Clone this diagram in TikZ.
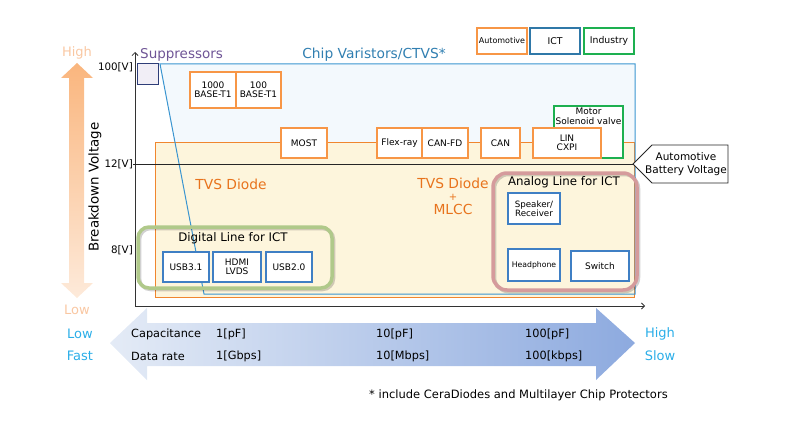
\documentclass[tikz,border=0pt]{standalone}
\usepackage{fontspec}
\setmainfont{DejaVu Sans}
\usetikzlibrary{arrows.meta}
\newcommand{\fsz}[1]{\fontsize{#1}{#1}\selectfont}
\definecolor{autoc}{HTML}{F79646}
\definecolor{ictc}{HTML}{3F7FC4}
\definecolor{ictleg}{HTML}{2F78A8}
\definecolor{indc}{HTML}{1DB050}
\definecolor{varc}{HTML}{3A95D0}
\definecolor{varfill}{HTML}{F3F9FD}
\definecolor{tvsfill}{HTML}{FDF5DC}
\definecolor{tvsline}{HTML}{F0862E}
\definecolor{tvstext}{HTML}{E8731C}
\definecolor{supfill}{HTML}{F1EEF6}
\definecolor{supline}{HTML}{2E3D78}
\definecolor{suptext}{HTML}{6F5596}
\definecolor{digc}{HTML}{B0C98A}
\definecolor{anac}{HTML}{D59B9C}
\definecolor{cyanc}{HTML}{2BAEE8}
\definecolor{hilo}{HTML}{F9C7A2}
\definecolor{arrl}{HTML}{E4EBF6}
\definecolor{arrr}{HTML}{8DAADF}
\begin{document}
\begin{tikzpicture}[x=1pt,y=-1pt,
  every node/.style={inner sep=0pt, align=center},
  autobox/.style={draw=autoc, fill=white, line width=1.3pt, font=\fsz{9}},
  ictbox/.style={draw=ictc, fill=white, line width=1.3pt, font=\fsz{9}},
  indbox/.style={draw=indc, fill=white, line width=1.3pt},
  groupline/.style={line width=3.5pt},
  groupshadow/.style={line width=3.5pt, draw=black, opacity=0.18},
  lbl/.style={anchor=west, font=\fsz{11.3}},
  speed/.style={text=cyanc, font=\fsz{13}},
  axis/.style={draw=black!80, line width=0.8pt}
]
\useasboundingbox (0,0) rectangle (805,433);

% left vertical orange arrow
\shade[top color=autoc!70, bottom color=autoc!20]
  (77,63) -- (93,78) -- (84,78) -- (84,283) -- (93,283) -- (77,298)
  -- (61,283) -- (69,283) -- (69,78) -- (61,78) -- cycle;
\node[text=hilo, font=\fsz{13}] (high) at (77,53) {High};
\node[text=hilo, font=\fsz{13}] (low) at (77,310) {Low};
\node[rotate=90, font=\fsz{13.4}] (bv) at (95,187) {Breakdown Voltage};

% bottom horizontal arrow
\shade[left color=arrl, right color=arrr]
  (110,343) -- (147,308) -- (147,323) -- (596,323) -- (596,308) -- (635,343)
  -- (596,380) -- (596,366) -- (147,366) -- (147,380) -- cycle;

% regions
\fill[varfill] (160,64) -- (635,64) -- (635,294) -- (204,294) -- cycle;
\draw[tvsline, fill=tvsfill, line width=1pt] (155,142) rectangle (634,297);
\draw[varc, line width=1pt] (160,64) -- (635,64) -- (635,294) -- (204,294) -- cycle;
\draw[supline, fill=supfill, line width=1pt] (137,64) rectangle (158,85);

% axes
\coordinate (origin) at (135,306);
\coordinate (ytop) at (135,52);
\coordinate (xend) at (645,306);
\draw[axis, -{Straight Barb[length=3pt,width=6pt]}] (origin) -- (ytop);
\draw[axis, -{Straight Barb[length=3pt,width=6pt]}] (origin) -- (xend);
\node[anchor=east, font=\fsz{10.3}] (v100) at (133,67) {100[V]};
\node[anchor=east, font=\fsz{10.3}] (v12) at (133,164) {12[V]};
\node[anchor=east, font=\fsz{10.3}] (v8) at (133,250) {8[V]};

% titles
\node[anchor=west, text=suptext, font=\fsz{13.5}] (supp) at (140,55) {Suppressors};
\node[text=varc!85!black, font=\fsz{13.8}] (chipv) at (374,55) {Chip Varistors/CTVS*};

% legend
\node[autobox, font=\fsz{8}, minimum width=50pt, minimum height=26pt] (legauto) at (502,41) {Automotive};
\node[draw=ictleg, fill=white, line width=1.3pt, font=\fsz{9.3}, minimum width=50pt, minimum height=26pt] (legict) at (555,41) {ICT};
\node[indbox, font=\fsz{9.3}, minimum width=50pt, minimum height=26pt] (legind) at (609,41) {Industry};

% callout
\draw[black!85, fill=white, line width=0.9pt] (633,164) -- (652,145) -- (728,145) -- (728,183) -- (652,183) -- cycle;
\coordinate (callouttip) at (633,164);
\node[font=\fsz{10.5}] (battery) at (686,164) {Automotive\\[2pt]Battery Voltage};
\coordinate (line12) at (133,164);
\draw[black!85, line width=0.9pt] (line12) -- (callouttip);

% automotive boxes
\node[autobox, minimum width=46pt, minimum height=36pt] (b1000) at (213,90) {1000\\BASE-T1};
\node[autobox, minimum width=45pt, minimum height=36pt] (b100) at (258.5,90) {100\\BASE-T1};
\node[autobox, minimum width=46pt, minimum height=30pt] (most) at (304,143) {MOST};
\node[autobox, minimum width=45pt, minimum height=30pt] (flex) at (399.5,143) {Flex-ray};
\node[autobox, minimum width=46pt, minimum height=30pt] (canfd) at (445,143) {CAN-FD};
\node[autobox, minimum width=39pt, minimum height=30pt] (can) at (500.5,143) {CAN};
\node[indbox, minimum width=69pt, minimum height=52pt] (motor) at (588.5,132) {};
\node[anchor=north, font=\fsz{9}] (motortxt) at (588.5,108) {Motor\\[1pt]Solenoid valve};
\node[autobox, minimum width=68pt, minimum height=30pt] (lin) at (567,143) {LIN\\CXPI};

% TVS texts
\node[text=tvstext, font=\fsz{13.8}] (tvs1) at (231,184) {TVS Diode};
\node[text=tvstext, font=\fsz{13.8}] (tvs2) at (453,183) {TVS Diode};
\node[text=tvstext, font=\fsz{10}] (plus) at (453,197) {+};
\node[text=tvstext, font=\fsz{13.8}] (mlcc) at (453,209) {MLCC};

% digital line group
\draw[groupshadow, rounded corners=11pt] (139.5,228.5) rectangle (333.5,289.5);
\draw[digc, groupline, rounded corners=11pt] (138,227) rectangle (332,288);
\node[font=\fsz{11.8}] (digt) at (233,238) {Digital Line for ICT};
\node[ictbox, minimum width=46pt, minimum height=30pt] (usb31) at (186,267) {USB3.1};
\node[ictbox, minimum width=48pt, minimum height=30pt] (hdmi) at (237,267) {HDMI\\LVDS};
\node[ictbox, minimum width=46pt, minimum height=30pt] (usb20) at (289,267) {USB2.0};

% analog line group
\draw[groupshadow, rounded corners=14pt] (494.5,174.5) rectangle (638.5,291.5);
\draw[anac, groupline, rounded corners=14pt] (493,173) rectangle (637,290);
\node[font=\fsz{11.8}] (anat) at (564,182) {Analog Line for ICT};
\node[ictbox, font=\fsz{8.7}, minimum width=52pt, minimum height=31pt] (spk) at (534,208.5) {Speaker/\\Receiver};
\node[ictbox, font=\fsz{7.7}, minimum width=52pt, minimum height=32pt] (head) at (534,265) {Headphone};
\node[ictbox, minimum width=58pt, minimum height=30pt] (sw) at (600,266) {Switch};

% bottom texts
\node[speed] (lowc) at (80,334) {Low};
\node[speed] (fast) at (80,356) {Fast};
\node[speed] (highc) at (660,334) {High};
\node[speed] (slow) at (660,356) {Slow};
\node[lbl] (cap) at (131,334) {Capacitance};
\node[lbl] (dr) at (131,356) {Data rate};
\node[lbl] (c1) at (216,334) {1[pF]};
\node[lbl] (c2) at (376,334) {10[pF]};
\node[lbl] (c3) at (525,334) {100[pF]};
\node[lbl] (d1) at (216,356) {1[Gbps]};
\node[lbl] (d2) at (376,356) {10[Mbps]};
\node[lbl] (d3) at (525,356) {100[kbps]};
\node[anchor=west, font=\fsz{11.5}] (foot) at (369,395) {* include CeraDiodes and Multilayer Chip Protectors};
\end{tikzpicture}
\end{document}
